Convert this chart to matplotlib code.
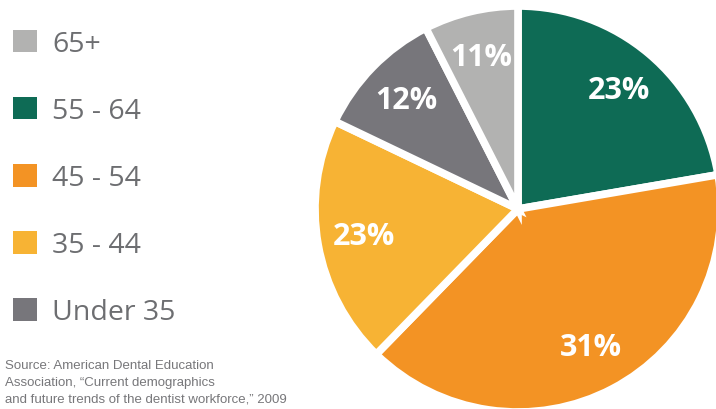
import matplotlib.pyplot as plt
from matplotlib.patches import Patch
import numpy as np

# age groups, clockwise from 12 o'clock
groups = ['55 - 64', '45 - 54', '35 - 44', 'Under 35', '65+']
# slice sizes as drawn in the picture (the printed labels differ a bit)
drawn_share = [22.3, 40.0, 19.8, 10.4, 7.5]
pct_labels = ['23%', '31%', '23%', '12%', '11%']
colors = ['#0e6b55', '#f39324', '#f7b334', '#77767b', '#b2b2b1']
legend_order = ['65+', '55 - 64', '45 - 54', '35 - 44', 'Under 35']
source = ('Source: American Dental Education\n'
          'Association, \u201cCurrent demographics\n'
          'and future trends of the dentist workforce,\u201d 2009')

fig = plt.figure(figsize=(7.16, 4.10), dpi=100)

# pie axes: centre ~ (518, 210) px, radius ~ 200 px
ax = fig.add_axes([(518 - 203) / 716, (200 - 203) / 410, 406 / 716, 406 / 410])
wedges, _ = ax.pie(drawn_share, colors=colors, startangle=90, counterclock=False,
                   radius=1.0, wedgeprops=dict(edgecolor='white', linewidth=5.5))
for w in wedges:
    w.set_clip_on(False)
ax.set_xlim(-1, 1)
ax.set_ylim(-1, 1)
ax.set_aspect('equal')
ax.axis('off')

for w, lab in zip(wedges, pct_labels):
    mid = np.deg2rad((w.theta1 + w.theta2) / 2)
    ax.text(0.77 * np.cos(mid), 0.77 * np.sin(mid), lab, color='white',
            ha='center', va='center', fontsize=22, fontweight='bold',
            family=['Open Sans', 'DejaVu Sans'])

# legend
handles = [Patch(facecolor=colors[groups.index(g)], edgecolor='none') for g in legend_order]
leg = fig.legend(handles, legend_order, loc='upper left', bbox_to_anchor=(0.018, 0.925),
                 frameon=False, handlelength=0.84, handleheight=0.84, handletextpad=0.53,
                 labelspacing=1.37, borderpad=0, borderaxespad=0,
                 prop=dict(family=['Open Sans', 'DejaVu Sans'], size=20.5))
for t in leg.get_texts():
    t.set_color('#6d6e71')

fig.text(5 / 716, 1 - 360 / 410, source, ha='left', va='top', fontsize=9.5,
         color='#77777a', linespacing=1.55,
         family=['Liberation Sans', 'DejaVu Sans'])

fig.savefig('out.png', dpi=100)
